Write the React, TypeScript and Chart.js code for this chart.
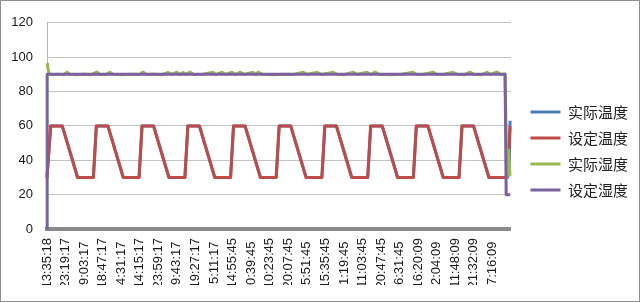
import React, { useEffect, useRef } from 'react';
import { Chart, registerables } from 'chart.js';

Chart.register(...registerables);

// Category tick labels (one per x unit)
const timeLabels = [
  '13:35:18', '23:19:17', '9:03:17', '18:47:17', '4:31:17', '14:15:17', '23:59:17',
  '9:43:17', '19:27:17', '5:11:17', '14:55:45', '0:39:45', '10:23:45', '20:07:45',
  '5:51:45', '15:35:45', '1:19:45', '11:03:45', '20:47:45', '6:31:45', '16:20:09',
  '2:04:09', '11:48:09', '21:32:09', '7:16:09',
];

const seriesNames = ['实际温度', '设定温度', '实际湿度', '设定湿度'];
const seriesColors = ['#4A7EBB', '#BE4B48', '#98B954', '#7D60A0'];

// x positions are in units of one tick-label interval
const setTempX = [0, 0.20, 0.82, 1.65, 2.50, 2.66, 3.28, 4.11, 4.96, 5.12, 5.74, 6.57, 7.43,
  7.59, 8.21, 9.04, 9.89, 10.05, 10.67, 11.50, 12.35, 12.51, 13.13, 13.96, 14.81,
  14.97, 15.59, 16.42, 17.28, 17.44, 18.06, 18.89, 19.74, 19.90, 20.52, 21.35, 22.20,
  22.36, 22.98, 23.81, 24.80, 24.95];
const setTempY = [30, 60, 60, 30, 30, 60, 60, 30, 30, 60, 60, 30, 30,
  60, 60, 30, 30, 60, 60, 30, 30, 60, 60, 30, 30,
  60, 60, 30, 30, 60, 60, 30, 30, 60, 60, 30, 30,
  60, 60, 30, 30, 60];

const actualTempX = [0, 0.20, 0.82, 1.65, 2.50, 2.66, 3.28, 4.11, 4.96, 5.12, 5.74, 6.57, 7.43,
  7.59, 8.21, 9.04, 9.89, 10.05, 10.67, 11.50, 12.35, 12.51, 13.13, 13.96, 14.81,
  14.97, 15.59, 16.42, 17.28, 17.44, 18.06, 18.89, 19.74, 19.90, 20.52, 21.35, 22.20,
  22.36, 22.98, 23.81, 24.80, 24.90, 24.95];
const actualTempY = [30, 60, 60, 30, 30, 60, 60, 30, 30, 60, 60, 30, 30,
  60, 60, 30, 30, 60, 60, 30, 30, 60, 60, 30, 30,
  60, 60, 30, 30, 60, 60, 30, 30, 60, 60, 30, 30,
  60, 60, 30, 30, 32, 63];

const actualHumX = [0, 0.04, 0.12, 0.3, 0.6, 0.9, 1.08, 1.25, 1.6, 2.0, 2.4, 2.69, 2.85, 3.2,
  3.39, 3.55, 4.0, 4.5, 5.0, 5.17, 5.35, 5.8, 6.2, 6.52, 6.7, 7.0, 7.15, 7.33, 7.5, 7.7,
  7.9, 8.4, 8.94, 9.1, 9.43, 9.6, 9.97, 10.15, 10.4, 10.6, 11.1, 11.25, 11.37, 11.6, 12.2,
  12.8, 13.3, 13.79, 14.0, 14.55, 14.8, 15.41, 15.6, 16.0, 16.49, 16.7, 17.24, 17.45, 17.67,
  17.9, 18.5, 19.1, 19.72, 19.9, 20.3, 20.8, 21.0, 21.4, 21.88, 22.1, 22.5, 22.79, 23.0,
  23.4, 23.71, 23.9, 24.25, 24.45, 24.68, 24.78, 24.86, 24.95];
const actualHumY = [96, 94, 90.2, 89.8, 90, 89.8, 91.3, 90, 89.8, 90.1, 89.8, 91.4, 89.9, 90.1,
  91.2, 90, 89.8, 90.1, 89.9, 91.4, 89.9, 90.1, 89.8, 91.2, 90, 91.3, 89.9, 91.1, 90, 91.3,
  89.9, 90.1, 91.2, 89.8, 91.3, 90, 91.2, 89.9, 91.3, 90, 91.2, 89.8, 91.3, 90, 89.8,
  90.1, 89.9, 91.3, 90, 91.2, 89.9, 91.2, 90.1, 89.8, 91.3, 90, 91.2, 89.9, 91.3,
  90, 89.8, 90.1, 91.3, 89.9, 90.1, 91.3, 89.9, 90.1, 91.2, 90, 89.8, 91.3, 90,
  89.8, 91.2, 90, 91.4, 89.9, 90.2, 30, 46, 31];

const setHumX = [0, 0.01, 24.68, 24.74, 24.95];
const setHumY = [0, 90, 90, 20, 20];

const seriesX = [actualTempX, setTempX, actualHumX, setHumX];
const seriesY = [actualTempY, setTempY, actualHumY, setHumY];

export default function App() {
  const ref = useRef<HTMLCanvasElement | null>(null);

  useEffect(() => {
    if (!ref.current) return;
    const datasets = seriesNames.map((name, i) => ({
      label: name,
      data: seriesX[i].map((x, j) => ({ x, y: seriesY[i][j] })),
      borderColor: seriesColors[i],
      backgroundColor: seriesColors[i],
      borderWidth: 3,
      pointRadius: 0,
      tension: 0,
      borderJoinStyle: 'round' as const,
      clip: false as const,
      order: 4 - i,
    }));

    const chart = new Chart(ref.current, {
      type: 'line',
      data: { datasets },
      options: {
        animation: false,
        responsive: false,
        devicePixelRatio: 1,
        layout: { padding: { top: 16, bottom: 16, left: 0, right: 1 } },
        plugins: {
          tooltip: { enabled: false },
          legend: {
            position: 'right',
            align: 'center',
            labels: {
              usePointStyle: true,
              pointStyle: 'line',
              pointStyleWidth: 30,
              padding: 11,
              color: '#222',
              font: { family: "'Noto Sans CJK SC', sans-serif", size: 15 },
              sort: (a: any, b: any) => a.datasetIndex - b.datasetIndex,
            },
          },
        },
        scales: {
          x: {
            type: 'linear',
            min: 0,
            max: 25,
            grid: { display: false, drawTicks: false },
            border: { display: true, color: '#8a8a8a', width: 4 },
            ticks: {
              stepSize: 1,
              autoSkip: false,
              minRotation: 90,
              maxRotation: 90,
              padding: 9,
              color: '#1a1a1a',
              font: { family: "'Liberation Sans', Arial, sans-serif", size: 13 },
              callback: (v: any) => {
                const s = timeLabels[Math.round(Number(v))];
                if (s === undefined) return '';
                return s.length < 8 ? s + ' ' : s;
              },
            },
            afterFit: (s: any) => { s.height = 56; },
          },
          y: {
            min: 0,
            max: 120,
            grid: { color: '#c3c3c3', drawTicks: false, lineWidth: 1 },
            border: { display: true, color: '#b5b5b5', width: 1 },
            ticks: {
              stepSize: 20,
              padding: 14,
              color: '#1a1a1a',
              font: { family: "'Liberation Sans', Arial, sans-serif", size: 13 },
            },
            afterFit: (s: any) => { s.width = 46; },
          },
          yR: {
            type: 'linear',
            position: 'right',
            display: false,
            afterFit: (s: any) => { s.width = 8.5; },
          },
        },
      },
    });
    return () => chart.destroy();
  }, []);

  return (
    <div
      style={{
        position: 'absolute',
        left: 0,
        top: 0,
        width: 640,
        height: 302,
        boxSizing: 'border-box',
        border: '1px solid #8c8c8c',
        background: '#fff',
      }}
    >
      <canvas ref={ref} width={638} height={300} style={{ display: 'block' }} />
    </div>
  );
}
